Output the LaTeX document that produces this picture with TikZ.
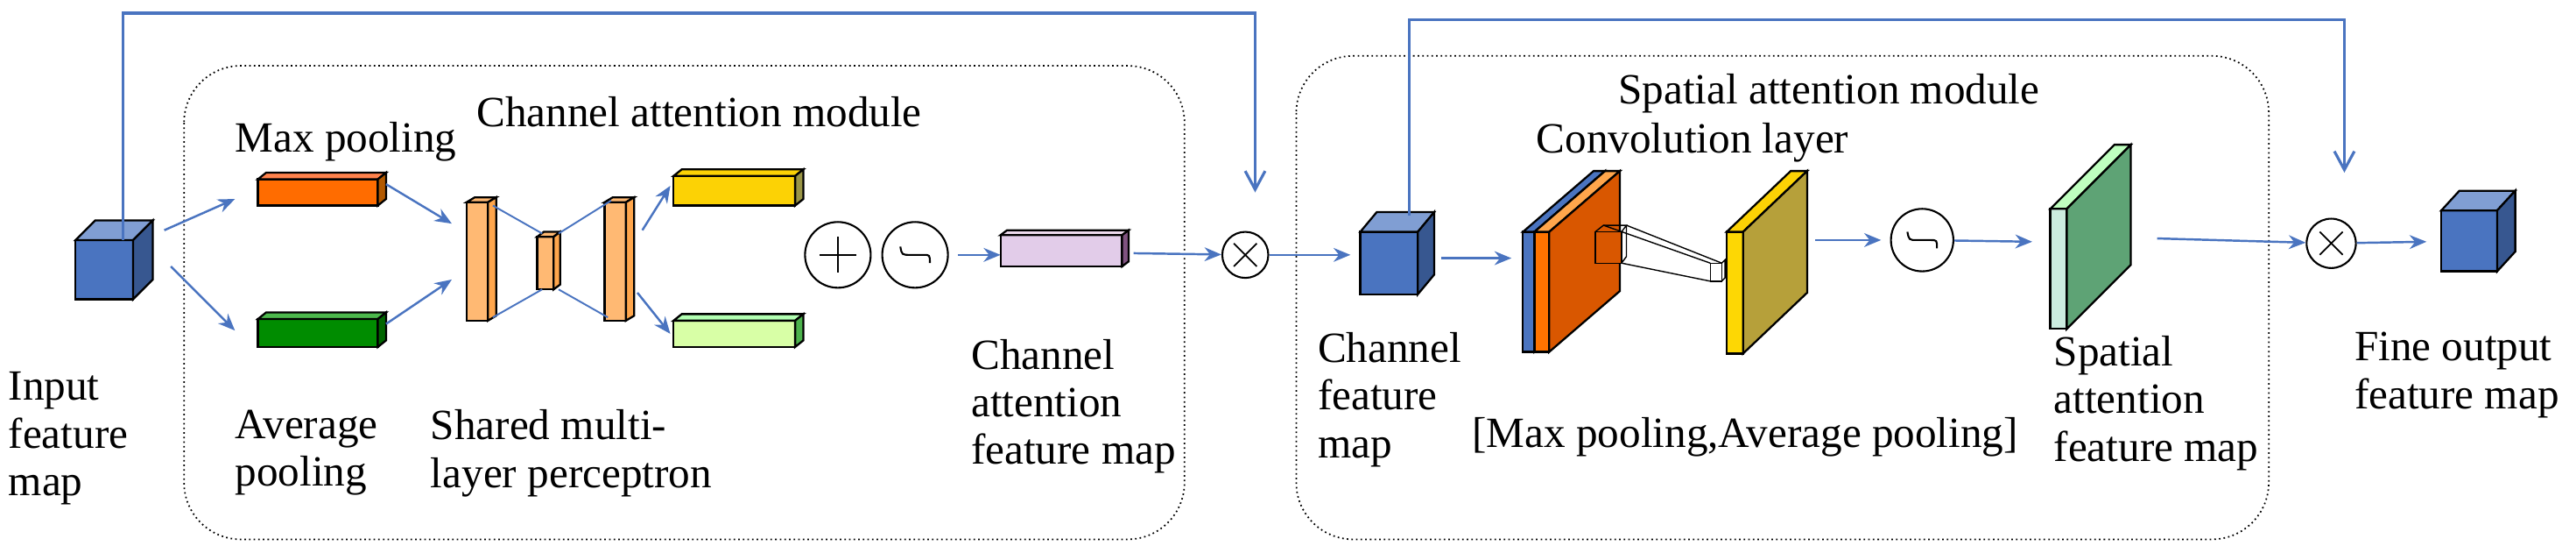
\documentclass[tikz,border=0pt]{standalone}
\usepackage{fontspec}
\setmainfont{Liberation Serif}
\usetikzlibrary{arrows.meta}
\definecolor{ab}{HTML}{4A74C0}
\newcommand\blk[9]{% x1 y1 x2 y2 dx dy front top side
  \draw[line width=1.3pt,fill=#7] (#1,#2) rectangle (#3,#4);
  \draw[line width=1.3pt,fill=#8] (#1,#2)--({#1+#5},{#2-#6})--({#3+#5},{#2-#6})--(#3,#2)--cycle;
  \draw[line width=1.3pt,fill=#9] (#3,#2)--({#3+#5},{#2-#6})--({#3+#5},{#4-#6})--(#3,#4)--cycle;}
\tikzset{
  arr/.style={ab,line width=1.4pt,-{Stealth[length=11pt,width=9pt]}},
  lnk/.style={ab,line width=1.1pt},
  skip/.style={ab,line width=1.8pt,-{Straight Barb[length=12pt,width=13pt]}},
  mod/.style={dotted,line width=1pt,rounded corners=1.3cm},
  lab/.style={font=\fontsize{28}{31}\selectfont,align=left,inner sep=0pt},
  op/.style={circle,draw,line width=1.2pt,inner sep=0pt}
}
\begin{document}
\begin{tikzpicture}[x=0.03753cm,y=-0.03753cm]
\useasboundingbox (0,0) rectangle (1568,336);
% modules
\draw[mod] (112,40) rectangle (721,328);
\draw[mod] (789,34) rectangle (1381,328);
% input cube
\blk{46}{146}{81}{182}{12}{12}{ab}{ab!70!white}{ab!75!black}
% pooling bars
\blk{157}{109}{230}{125}{5}{4}{orange!85!red}{orange!60!red!70}{orange!70!black}
\blk{157}{194}{230}{211}{5}{4}{green!55!black}{green!60!black!70}{green!40!black}
\draw[arr] (100,140) -- (143,121);
\draw[arr] (104,162) -- (143,201);
\draw[arr] (235,112) -- (275,136);
\draw[arr] (235,197) -- (275,170);
% MLP
\def\mlp{orange!55!white}
\blk{284}{123}{297}{195}{5}{3}{\mlp}{\mlp}{orange!70!white}
\blk{327}{144}{337}{176}{4}{3}{\mlp}{\mlp}{orange!70!white}
\blk{368}{123}{381}{195}{5}{3}{\mlp}{\mlp}{orange!70!white}
\draw[lnk] (300,125) -- (330,142);
\draw[lnk] (300,193) -- (330,176);
\draw[lnk] (340,142) -- (372,122);
\draw[lnk] (340,176) -- (370,193);
\draw[arr] (391,140) -- (408,113);
\draw[arr] (388,178) -- (408,203);
\blk{410}{107}{484}{125}{5}{4}{yellow!70!orange}{yellow!70!orange}{yellow!55!black}
\blk{410}{195}{484}{211}{5}{4}{green!25!lime!35!white}{green!30!white}{green!40!gray}
% ops
\node[op,minimum size=40*0.03753cm] (plus) at (510,155) {};
\draw[line width=1.2pt] (499,155)--(521,155) (510,144)--(510,166);
\node[op,minimum size=40*0.03753cm] (sig1) at (557,155) {};
\draw[line width=1.2pt] ([shift={(-9,-5)}]sig1.center) .. controls ([shift={(-8,0)}]sig1.center) .. ([shift={(-3,0)}]sig1.center) -- ([shift={(5,0)}]sig1.center) .. controls ([shift={(9,0)}]sig1.center) .. ([shift={(9,5)}]sig1.center);
\draw[arr] (583,155) -- (609,155);
\blk{609}{143}{683}{162}{4}{3}{blue!15!violet!20!white}{violet!15!white}{violet!35!gray}
\node[op,minimum size=28*0.03753cm] (ot1) at (758,155) {};
\draw[line width=1pt] ([shift={(-7,-7)}]ot1.center)--([shift={(7,7)}]ot1.center) ([shift={(7,-7)}]ot1.center)--([shift={(-7,7)}]ot1.center);
\draw[arr] (690,154) -- (ot1);
\draw[arr] (ot1) -- (822,155);
% skip 1
\coordinate (s1) at (75,146);
\coordinate (s1e) at (764,117);
\draw[skip] (s1) |- (764,8) -- (s1e);
% channel feature map cube
\blk{828}{141}{863}{179}{10}{12}{ab}{ab!70!white}{ab!75!black}
\draw[arr] (877,157) -- (920,157);
\coordinate (s2) at (857.6,131);
\draw[skip] (s2) |- (1427,12) -- (1427,105);
% conv slabs
\blk{927}{141}{934}{214}{43}{37}{ab}{ab}{ab}
\blk{934}{141}{943}{214}{43}{37}{orange!90!red}{orange!70}{orange!80!red!85!black}
\draw[thick,fill=orange!80!red!85!black] (971,141) rectangle (987,160);
\draw[thick] (971,141)--(976,137)--(990,137)--(987,141) (987,160)--(990,156)--(990,137);
\blk{1051}{141}{1061}{215}{39}{37}{yellow!75!orange}{yellow!70!orange}{yellow!60!black!80!orange}
\draw[thick,fill=white] (1041,160) rectangle (1048,171);
\draw[thick] (1048,160)--(1050,158)--(1050,169)--(1048,171);
\draw[thick] (976,137) -- (1041,160);
\draw[thick] (987,160) -- (1041,171);
\draw[thick] (990,137) -- (1048,160);
\draw[arr] (1105,146) -- (1145,146);
\node[op,minimum size=38*0.03753cm] (sig2) at (1170,146) {};
\draw[line width=1.2pt] ([shift={(-9,-5)}]sig2.center) .. controls ([shift={(-8,0)}]sig2.center) .. ([shift={(-3,0)}]sig2.center) -- ([shift={(5,0)}]sig2.center) .. controls ([shift={(9,0)}]sig2.center) .. ([shift={(9,5)}]sig2.center);
\draw[arr] (sig2) -- (1237,147);
\blk{1248}{127}{1258}{200}{39}{39}{green!25!teal!20!white}{green!25!white}{teal!50!green!40!gray!90}
\node[op,minimum size=30*0.03753cm] (ot2) at (1419,148) {};
\draw[line width=1pt] ([shift={(-7,-7)}]ot2.center)--([shift={(7,7)}]ot2.center) ([shift={(7,-7)}]ot2.center)--([shift={(-7,7)}]ot2.center);
\draw[arr] (1313,145) -- (ot2);
\draw[arr] (ot2) -- (1477,147);
\blk{1486}{128}{1520}{165}{11}{12}{ab}{ab!70!white}{ab!75!black}
% labels
\node[lab,anchor=west] (t1) at (290,68) {Channel attention module};
\node[lab,anchor=west] (t2) at (143,86) {Max pooling};
\node[lab,anchor=north west] (t3) at (5,226) {Input\\feature\\map};
\node[lab,anchor=north west] (t4) at (143,249) {Average\\pooling};
\node[lab,anchor=north west] (t5) at (262,249) {Shared multi-\\layer perceptron};
\node[lab,anchor=north west] (t6) at (591,206) {Channel\\attention\\feature map};
\node[lab,anchor=west] (t7) at (985,57) {Spatial attention module};
\node[lab,anchor=west] (t8) at (935,87) {Convolution layer};
\node[lab,anchor=north west] (t9) at (802,202) {Channel\\feature\\map};
\node[lab,anchor=west] (t10) at (896,266) {[Max pooling,Average pooling]};
\node[lab,anchor=north west] (t11) at (1250,204) {Spatial\\attention\\feature map};
\node[lab,anchor=north west] (t12) at (1433,202) {Fine output\\feature map};
\end{tikzpicture}
\end{document}
